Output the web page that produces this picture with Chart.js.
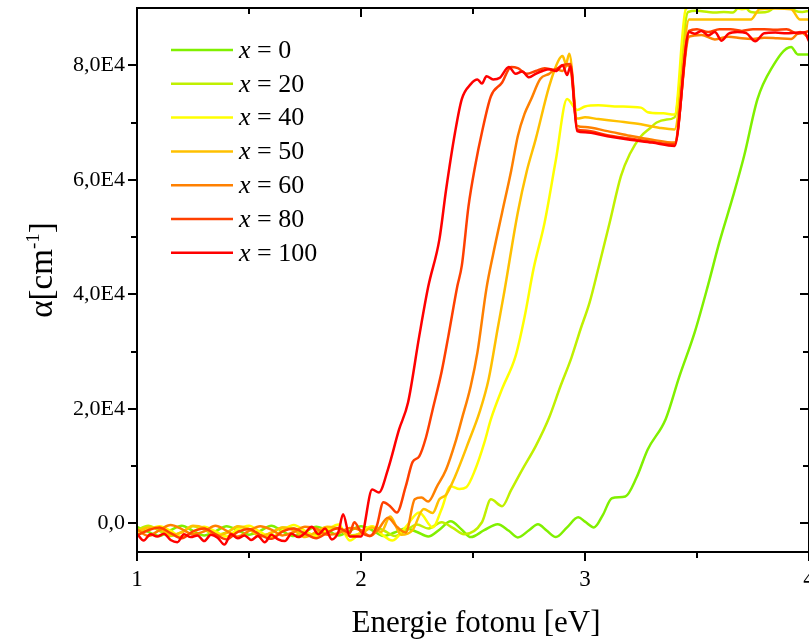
<!DOCTYPE html>
<html>
<head>
<meta charset="utf-8">
<script src="https://cdn.jsdelivr.net/npm/chart.js@4.4.1/dist/chart.umd.min.js"></script>
<style>
  html, body { margin: 0; padding: 0; background: #fff; }
</style>
</head>
<body>
<canvas id="absChart" width="809" height="641"></canvas>
<script>
// composition x of each sample, legend order
const seriesX = [0, 20, 40, 50, 60, 80, 100];
const seriesColors = ['#80f000', '#c0f000', '#ffff00', '#ffc000', '#ff8000', '#ff4000', '#ff0000'];

const xTickValues = [1, 2, 3, 4];
const xMinorValues = [1, 1.5, 2, 2.5, 3, 3.5, 4];
const yTickValues = [0, 20000, 40000, 60000, 80000];
const yMinorValues = [0, 10000, 20000, 30000, 40000, 50000, 60000, 70000, 80000];

// photon energy [eV] / absorption coefficient [cm-1]
const e0 = [1.00,1.05,1.10,1.15,1.20,1.25,1.30,1.35,1.40,1.45,1.50,1.55,1.60,1.65,1.70,1.75,1.80,1.85,1.90,1.95,
  2.00,2.05,2.10,2.15,2.20,2.25,2.30,2.35,2.40,2.45,2.49,2.55,2.61,2.66,2.70,2.75,2.79,2.83,2.87,2.92,
  2.97,3.00,3.04,3.08,3.12,3.18,3.23,3.28,3.36,3.42,3.49,3.55,3.60,3.66,3.71,3.77,3.83,3.92,3.95,4.00];
const a0 = [-600,-1500,-2200,-1200,-400,-1300,-2100,-1400,-500,-1200,-2000,-1300,-400,-1400,-2200,-1500,-600,-1200,-2100,-1300,
  -500,-1200,-2200,-1600,-900,-1500,-2300,-1100,350,-1100,-2400,-1200,-150,-1300,-2450,-1200,-150,-1300,-2400,-700,
  1050,300,-700,1500,4400,4700,8000,12900,18200,25500,33400,41700,49100,57000,64100,74100,79300,83200,81900,81900];

const e20 = [1.00,1.05,1.10,1.15,1.20,1.25,1.30,1.35,1.40,1.45,1.50,1.55,1.60,1.65,1.70,1.75,1.80,1.85,1.90,1.95,
  2.00,2.05,2.10,2.15,2.20,2.25,2.30,2.36,2.41,2.46,2.54,2.58,2.63,2.67,2.72,2.78,2.84,2.89,2.94,2.98,
  3.02,3.06,3.11,3.16,3.20,3.25,3.29,3.32,3.36,3.40,3.46,3.50,3.55,3.58,3.62,3.66,3.70,3.74,3.78,3.82,
  3.86,3.90,3.94,3.97,4.00];
const a20 = [-1200,-400,-1300,-2200,-1500,-500,-1100,-2000,-1600,-600,-1000,-2100,-1700,-700,-900,-2000,-1800,-800,-1000,-2100,
  -1700,-600,-1200,-2200,-1300,-200,-900,200,-800,-1900,200,4200,3000,5800,9400,13500,18500,23900,29000,33900,
  38500,44600,52500,60600,64500,67600,69000,70000,70500,70900,89300,89500,89300,89200,89300,89200,90800,89300,89200,89400,
  90600,91000,89500,89300,89500];

const e40 = [1.00,1.05,1.10,1.15,1.20,1.25,1.30,1.35,1.40,1.45,1.50,1.55,1.60,1.65,1.70,1.75,1.80,1.85,1.90,1.95,
  2.00,2.05,2.09,2.14,2.20,2.26,2.32,2.36,2.40,2.44,2.47,2.51,2.55,2.58,2.63,2.69,2.73,2.77,2.82,2.87,
  2.92,2.965,3.00,3.06,3.15,3.25,3.28,3.35,3.40,3.45,3.50,3.60,3.70,3.80,3.90,4.00];
const a40 = [-2000,-1100,-500,-1300,-2400,-1500,-600,-1400,-2300,-1000,-400,-1500,-2400,-1200,-300,-1300,-2200,-1100,-200,-3000,
  -1500,-500,-1800,-3000,-600,1900,-700,2500,6500,6000,6300,9400,14000,18200,23500,29200,36000,44400,52600,63500,
  74100,72200,72800,73000,72800,72600,71800,71600,71400,89800,90600,91000,89800,90800,91000,90500];

const e50 = [1.00,1.05,1.10,1.15,1.20,1.25,1.30,1.35,1.40,1.45,1.50,1.55,1.60,1.65,1.70,1.75,1.80,1.85,1.90,1.95,
  2.00,2.05,2.09,2.13,2.18,2.23,2.28,2.32,2.35,2.38,2.42,2.48,2.53,2.57,2.61,2.64,2.70,2.74,2.78,2.84,
  2.88,2.90,2.915,2.93,2.965,3.00,3.06,3.15,3.25,3.33,3.40,3.465,3.55,3.65,3.74,3.78,3.85,3.92,3.96,4.00];
const a50 = [-1500,-700,-900,-2000,-1600,-400,-800,-2100,-1700,-500,-1000,-2300,-1600,-700,-1200,-2400,-1500,-600,-900,-2200,
  -1800,-700,-1500,1200,-2000,-1200,2500,1800,4200,5000,8200,14200,19500,25200,34000,40500,54300,61500,67100,76300,
  80700,81600,80300,82000,70700,70900,70600,70200,69700,69100,68800,88000,88000,88000,88000,89800,89900,89800,88000,88000];

const e60 = [1.00,1.05,1.10,1.15,1.20,1.25,1.30,1.35,1.40,1.45,1.50,1.55,1.60,1.65,1.70,1.75,1.80,1.85,1.90,1.95,
  2.00,2.04,2.08,2.12,2.16,2.20,2.24,2.27,2.30,2.34,2.38,2.42,2.45,2.49,2.52,2.56,2.59,2.63,2.67,2.70,
  2.73,2.76,2.80,2.84,2.87,2.90,2.92,2.935,2.965,3.00,3.10,3.20,3.30,3.40,3.465,3.52,3.58,3.64,3.70,3.75,
  3.80,3.86,3.92,3.96,4.00];
const a60 = [-1000,-2200,-1200,-300,-1000,-1900,-1400,-400,-1300,-2300,-1300,-500,-1100,-2100,-1500,-600,-900,-2000,-1700,-800,
  -1200,-2200,-900,1000,-600,-1600,4200,4500,3800,6500,9400,14000,18200,24000,29900,41000,47000,54300,61500,67600,
  71500,74100,77600,78500,79300,79000,80000,79500,69400,69200,68500,67700,67000,66500,85000,85300,84500,85000,84700,84600,
  84800,84700,84600,85800,84800];

const e80 = [1.00,1.05,1.10,1.15,1.20,1.25,1.30,1.35,1.40,1.45,1.50,1.55,1.60,1.65,1.70,1.75,1.80,1.85,1.90,1.95,
  1.97,2.00,2.04,2.07,2.10,2.13,2.16,2.20,2.23,2.26,2.29,2.32,2.36,2.39,2.43,2.45,2.48,2.51,2.54,2.58,
  2.63,2.67,2.70,2.74,2.78,2.82,2.86,2.90,2.935,2.965,3.00,3.10,3.20,3.30,3.40,3.465,3.50,3.55,3.60,3.65,
  3.70,3.75,3.80,3.85,3.90,3.95,4.00];
const a80 = [-2100,-1200,-700,-1700,-2600,-1400,-900,-1900,-2800,-1500,-1000,-2000,-2700,-1400,-900,-1800,-2600,-1600,-800,-1700,
  200,-1500,-2200,-500,3700,3000,1900,6500,10700,11700,15000,19900,26500,32700,41400,45000,55400,62500,68300,74600,
  77000,79700,79500,78500,79000,79500,79200,80000,80200,68800,68600,67800,67200,66600,66200,86000,86300,85800,86300,86300,
  86000,86300,86300,86200,86300,85500,86000];

const e100 = [1.00,1.03,1.06,1.09,1.12,1.15,1.18,1.21,1.24,1.27,1.30,1.33,1.36,1.39,1.42,1.45,1.48,1.51,1.54,1.57,
  1.60,1.63,1.66,1.69,1.72,1.75,1.78,1.81,1.84,1.87,1.90,1.92,1.95,2.00,2.05,2.08,2.12,2.17,2.21,2.26,
  2.30,2.35,2.38,2.42,2.45,2.49,2.52,2.54,2.56,2.59,2.62,2.66,2.69,2.72,2.75,2.78,2.81,2.84,2.87,2.90,
  2.92,2.935,2.965,3.00,3.10,3.20,3.30,3.40,3.465,3.49,3.52,3.55,3.58,3.61,3.64,3.68,3.72,3.76,3.80,3.85,
  3.90,3.95,3.98,4.00];
const a100 = [-1800,-3000,-1900,-2300,-1800,-2900,-3300,-1900,-2400,-2100,-3100,-2000,-2500,-3700,-1900,-2600,-2100,-2900,-2200,-3300,
  -2000,-2800,-3100,-1800,-2400,-1700,-600,-1900,-900,-2800,-1400,1600,-2300,-2300,5900,5400,9400,16400,21100,32700,
  41300,49600,58300,68300,74100,76700,77500,76800,78100,77500,77800,79700,78500,78900,77900,78500,79000,79300,79000,80000,
  78300,79800,68500,68300,67600,67000,66500,65900,85800,85500,86000,85200,85800,84300,85500,85800,85600,84200,85600,85700,
  85600,85700,85700,84200];

const energies = [e0, e20, e40, e50, e60, e80, e100];
const alphas = [a0, a20, a40, a50, a60, a80, a100];

const serif = "'Liberation Serif', 'Times New Roman', serif";

function formatAlpha(v) {
  if (v === 0) return '0,0';
  return (v / 10000).toFixed(1).replace('.', ',') + 'E4';
}

const frameAndTicks = {
  id: 'frameAndTicks',
  afterDatasetsDraw(chart) {
    const { ctx, chartArea: a, scales: { x, y } } = chart;
    ctx.save();
    ctx.strokeStyle = '#000';
    ctx.lineWidth = 2;
    ctx.strokeRect(a.left, a.top, a.right - a.left, a.bottom - a.top);
    ctx.beginPath();
    xMinorValues.forEach(v => {
      const px = Math.round(x.getPixelForValue(v));
      const len = Number.isInteger(v) ? 9 : 6;
      ctx.moveTo(px, a.bottom); ctx.lineTo(px, a.bottom + len);   // outward
      ctx.moveTo(px, a.top); ctx.lineTo(px, a.top + len);         // inward
    });
    yMinorValues.forEach(v => {
      const py = Math.round(y.getPixelForValue(v));
      const len = v % 20000 === 0 ? 9 : 6;
      ctx.moveTo(a.left, py); ctx.lineTo(a.left - len, py);       // outward
      ctx.moveTo(a.right, py); ctx.lineTo(a.right - len, py);     // inward
    });
    ctx.stroke();
    ctx.restore();
  }
};

const textParts = {
  id: 'textParts',
  afterDraw(chart) {
    const { ctx } = chart;
    ctx.save();
    ctx.fillStyle = '#000';

    // legend
    seriesX.forEach((n, i) => {
      const y = 50 + i * 33.8;
      ctx.strokeStyle = seriesColors[i];
      ctx.lineWidth = 2.5;
      ctx.beginPath();
      ctx.moveTo(171, y); ctx.lineTo(233, y);
      ctx.stroke();
      ctx.textBaseline = 'middle';
      ctx.textAlign = 'left';
      ctx.font = 'italic 26px ' + serif;
      ctx.fillText('x', 239, y + 1);
      const w = ctx.measureText('x').width;
      ctx.font = '26px ' + serif;
      ctx.fillText(' = ' + n, 239 + w, y + 1);
    });

    // x axis title
    ctx.font = '31px ' + serif;
    ctx.textAlign = 'center';
    ctx.textBaseline = 'alphabetic';
    ctx.fillText('Energie fotonu [eV]', 476, 632);

    // y axis title with superscript
    ctx.translate(52, 270);
    ctx.rotate(-Math.PI / 2);
    ctx.textAlign = 'left';
    const big = '33px ' + serif, small = '19px ' + serif;
    ctx.font = big;
    const w1 = ctx.measureText('α[cm').width;
    const w3 = ctx.measureText(']').width;
    ctx.font = small;
    const w2 = ctx.measureText('-1').width;
    let cx = -(w1 + w2 + w3) / 2;
    ctx.font = big;
    ctx.fillText('α[cm', cx, 0);
    cx += w1;
    ctx.font = small;
    ctx.fillText('-1', cx, -13);
    cx += w2;
    ctx.font = big;
    ctx.fillText(']', cx, 0);
    ctx.restore();
  }
};

const datasets = seriesX.map((n, i) => ({
  label: 'x = ' + n,
  data: energies[i].map((e, k) => ({ x: e, y: alphas[i][k] })),
  borderColor: seriesColors[i],
  borderWidth: 2.5,
  pointRadius: 0,
  fill: false,
  cubicInterpolationMode: 'monotone',
  order: seriesX.length - i
}));

new Chart(document.getElementById('absChart'), {
  type: 'line',
  data: { datasets: datasets },
  options: {
    responsive: false,
    animation: false,
    devicePixelRatio: 1,
    layout: { padding: { top: 8, right: -3, left: 0, bottom: 0 } },
    plugins: {
      legend: { display: false },
      tooltip: { enabled: false }
    },
    scales: {
      x: {
        type: 'linear',
        min: 1,
        max: 4,
        grid: { display: false, drawTicks: false },
        border: { display: false },
        ticks: {
          color: '#000',
          font: { family: serif, size: 23 },
          padding: 14,
          maxRotation: 0,
          callback: v => String(v)
        },
        afterBuildTicks: s => { s.ticks = xTickValues.map(v => ({ value: v })); },
        afterFit: s => { s.height = 89; s.paddingLeft = 0; s.paddingRight = 0; }
      },
      y: {
        type: 'linear',
        min: -5000,
        max: 90000,
        grid: { display: false, drawTicks: false },
        border: { display: false },
        ticks: {
          color: '#000',
          font: { family: serif, size: 22 },
          padding: 12,
          callback: v => formatAlpha(v)
        },
        afterBuildTicks: s => { s.ticks = yTickValues.map(v => ({ value: v })); },
        afterFit: s => { s.width = 137; s.paddingTop = 0; s.paddingBottom = 0; }
      }
    }
  },
  plugins: [frameAndTicks, textParts]
});
</script>
</body>
</html>
